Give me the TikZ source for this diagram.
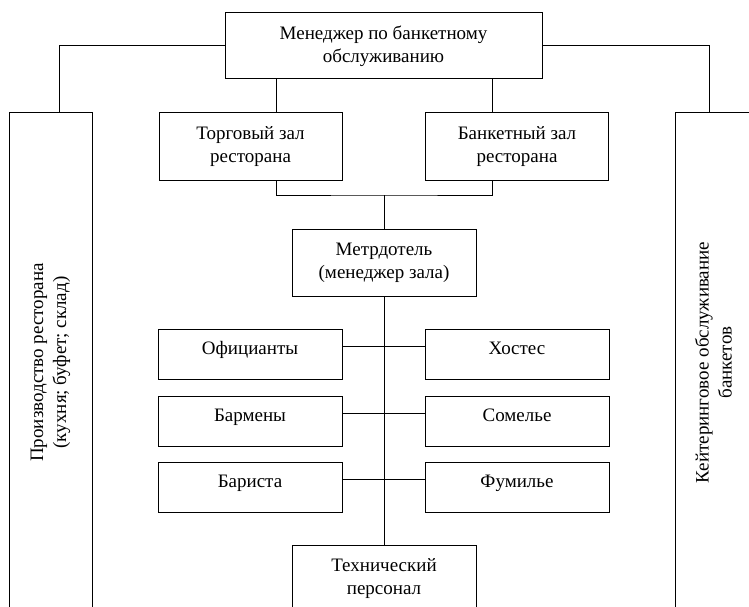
\documentclass[tikz,border=0pt]{standalone}
\usepackage{fontspec}
\setmainfont{Liberation Serif}
\begin{document}
\begin{tikzpicture}[x=1pt,y=-1pt,line width=1pt,
    box/.style={draw,rectangle,align=center,inner sep=0pt,font=\fontsize{19}{23}\selectfont},
    rowbox/.style={box,anchor=north,minimum width=184pt,text height=25pt,text depth=25pt}]
    \useasboundingbox (0,0) rectangle (749,607);
    \node[box,minimum width=317pt,minimum height=66pt] (mgr) at (383.5,46) {Менеджер по банкетному\\обслуживанию};
    \node[box,minimum width=183pt,minimum height=67pt] (hall) at (250.5,146.5) {Торговый зал\\ресторана};
    \node[box,minimum width=183pt,minimum height=67pt] (banq) at (517,146.5) {Банкетный зал\\ресторана};
    \node[box,minimum width=184pt,minimum height=67pt] (maitre) at (384,262.5) {Метрдотель\\(менеджер зала)};
    \node[rowbox] (waiters) at (250,329) {Официанты};
    \node[rowbox] (hostess) at (517,329) {Хостес};
    \node[rowbox] (barmen) at (250,396) {Бармены};
    \node[rowbox] (somm) at (517,396) {Сомелье};
    \node[rowbox] (barista) at (250,462) {Бариста};
    \node[rowbox] (fumil) at (517,462) {Фумилье};
    \node[box,anchor=north,minimum width=184pt,minimum height=67pt] (tech) at (384,545) {Технический\\персонал};
    \node[box,rotate=90,minimum width=499pt,minimum height=83pt] (prod) at (50.5,362.5) {Производство ресторана\\(кухня; буфет; склад)};
    \node[box,rotate=90,minimum width=499pt,minimum height=77pt] (cater) at (713.5,362.5) {Кейтеринговое обслуживание\\банкетов};
    \coordinate (hallup) at ([xshift=25.5pt]hall.north);
    \coordinate (banqup) at ([xshift=-25pt]banq.north);
    \coordinate (join) at (384,195);
    \draw (hallup) -- (hallup |- mgr.south);
    \draw (banqup) -- (banqup |- mgr.south);
    \draw (hallup |- hall.south) |- (join) -| (banqup |- banq.south);
    \draw (join) -- (maitre.north);
    \draw (maitre.south) -- (tech.north);
    \draw ([yshift=-17pt]waiters.north east) -- ([yshift=-17pt]hostess.north west);
    \draw ([yshift=-17pt]barmen.north east) -- ([yshift=-17pt]somm.north west);
    \draw ([yshift=-17pt]barista.north east) -- ([yshift=-17pt]fumil.north west);
    \draw (mgr.west) -| ([xshift=8.5pt]prod.east);
    \draw (mgr.east) -| ([xshift=-4.5pt]cater.east);
\end{tikzpicture}
\end{document}
